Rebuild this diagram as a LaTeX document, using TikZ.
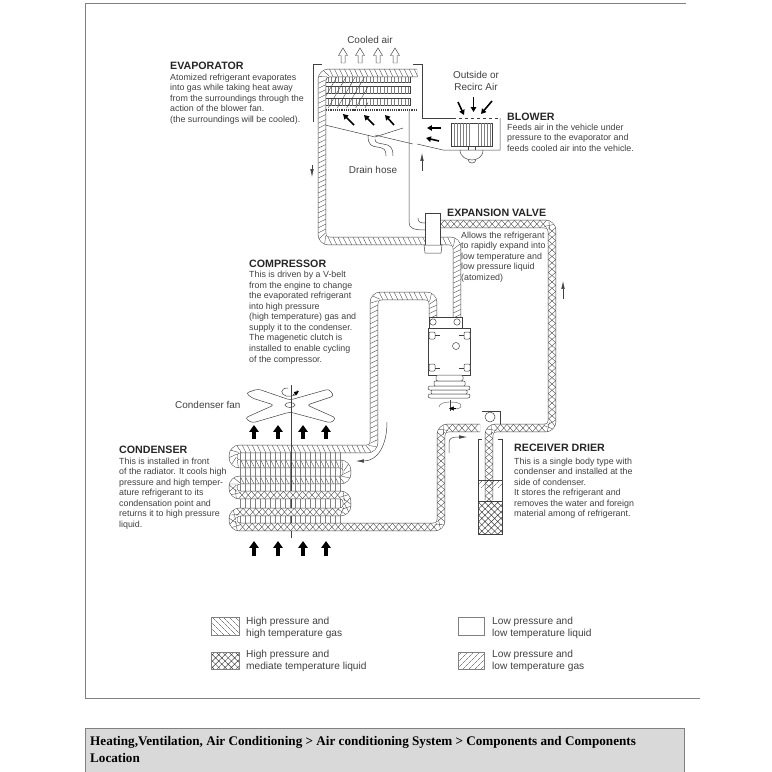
\documentclass[tikz,border=0pt]{standalone}
\usepackage{fontspec}
\setmainfont{Liberation Sans}
\newfontfamily\footfont{Liberation Serif}
\usepackage{tikz}
\usetikzlibrary{decorations.markings, patterns.meta, arrows.meta}
\definecolor{inkgray}{gray}{0.25}
\definecolor{footgray}{gray}{0.85}
\tikzset{
  thinline/.style={draw=inkgray, line width=0.5pt},
  hairline/.style={draw=inkgray, line width=0.35pt},
  pipebase/.style={draw=inkgray, line width=0.5pt, double=white, double distance=7.5pt, rounded corners=7},
  gaspipe/.style={pipebase, postaction={decorate}, decoration={markings,
    mark=between positions 0.002 and 1 step 5pt with {\draw[hairline] (-1.8,-3.7) -- (1.8,3.7);}}},
  hotpipe/.style={pipebase, postaction={decorate}, decoration={markings,
    mark=between positions 0.002 and 1 step 5pt with {\draw[hairline] (-1.8,-3.7) -- (1.8,3.7);}}},
  meshpipe/.style={pipebase, postaction={decorate}, decoration={markings,
    mark=between positions 0.002 and 1 step 6.4pt with {\draw[hairline] (-3.2,-3.7) -- (3.2,3.7); \draw[hairline] (-3.2,3.7) -- (3.2,-3.7);}}},
  blockarrow/.style={-{Triangle[width=9.5pt, length=7pt]}, line width=3.4pt, draw=black},
  smallarrow/.style={-{Triangle[width=5.5pt, length=5pt]}, line width=1.6pt, draw=black},
  flowarrow/.style={-{Latex[width=3.5pt, length=8pt]}, draw=inkgray, line width=0.5pt},
  airarrow/.style={thinline, fill=white},
  headtext/.style={anchor=west, inner sep=0pt, text=black!85, font=\fontsize{10.7}{12}\selectfont\bfseries},
  bodytext/.style={anchor=north west, inner sep=0pt, align=left, text=inkgray, font=\fontsize{8.9}{10.6}\selectfont},
  plaintext/.style={inner sep=0pt, align=center, text=inkgray, font=\fontsize{10}{12}\selectfont},
  legendtext/.style={anchor=north west, inner sep=0pt, align=left, text=inkgray, font=\fontsize{10.2}{11.5}\selectfont},
  legendbox/.style={draw=gray, line width=0.5pt},
}
\begin{document}
\begin{tikzpicture}[x=1bp, y=-1bp]
  \useasboundingbox (0,0) rectangle (772,772);
  % --- Frame and footer ---
  \draw[draw=gray, line width=0.8pt] (686,3) -- (85,3) -- (85,698) -- (700,698);
  \draw[draw=gray, fill=footgray] (85,728) rectangle (684,772);
  \node[anchor=north west, inner sep=0pt, align=left, font=\fontsize{13.2}{17}\selectfont\footfont\bfseries] (foot_text) at (90,736)
    {Heating,Ventilation, Air Conditioning > Air conditioning System > Components and Components\\Location};

  % --- Evaporator housing ---
  \draw[thinline] (322,64) -- (313,64) -- (313,122);
  \draw[thinline] (413,64) -- (422,64) -- (422,118) -- (453,118);
  \draw[thinline, dashed] (453,118) -- (500,118);
  \draw[thinline] (500,118) -- (500,150) -- (443,150) -- (417,144);
  % Drain pan and hose
  \draw[thinline] (325,125) -- (375,137) -- (403,128);
  \draw[thinline] (375,135) -- (413,144);
  \draw[thinline] (368,135) .. controls (368,146) and (372,146) .. (377,147) .. controls (384,148) and (386,149) .. (386,156);
  \draw[thinline] (375,139) .. controls (375,143) and (378,143) .. (383,144) .. controls (390,145) and (393,147) .. (393,156);
  % Evaporator coil
  \foreach \y in {79,90,102} {
    \draw[thinline, fill=white] (325,\y-3.5) rectangle (410,\y+3.5);
    \foreach \x in {328,331.5,...,409}
      \draw[hairline, draw=gray] (\x,\y-3.5) -- (\x,\y+3.5);
    \path[pattern={Lines[angle=60, distance=8pt, line width=0.35pt]}, pattern color=inkgray] (325,\y-5.5) rectangle (368,\y+5.5);
  }
  \draw[inkgray, line width=1.2pt, densely dotted] (326,110) -- (417,110);
  \draw[gaspipe] (417,73) -- (322,73) -- (322,241) -- (457,241) -- (457,317);

  % --- Liquid line to evaporator ---
  \draw[thinline] (409,111) -- (409,222) .. controls (409,228) and (413,230) .. (425,230);
  \draw[thinline] (418,218) .. controls (418,222) and (420,223) .. (425,223);

  % --- Air arrows ---
  \foreach \x in {343,360,378,395}
    \draw[airarrow, shift={(\x,0)}] (-2,63) -- (-2,55.5) -- (-4.5,55.5) -- (0,48) -- (4.5,55.5) -- (2,55.5) -- (2,63) -- cycle;
  \draw[smallarrow] (458,102) -- (464,115);
  \draw[smallarrow] (473.5,97) -- (473.5,112);
  \draw[smallarrow] (492,101) -- (481,114);
  \draw[smallarrow] (354,125) -- (343,114);
  \draw[smallarrow] (374,125) -- (364,115);
  \draw[smallarrow] (394,125) -- (385,115);
  \draw[smallarrow] (441,128) -- (427,128);
  \draw[smallarrow] (439,141) -- (426,138);

  % --- Blower ---
  \draw[thinline, fill=white] (451,123) rectangle (492,146);
  \foreach \x in {454,457,460,463,466,469,478,481,484,487,490}
    \draw[hairline, draw=gray] (\x,123) -- (\x,146);
  \draw[hairline] (468,146) -- (468,150);
  \draw[hairline] (475,146) -- (475,150);
  \draw[thinline] (460,150) .. controls (460,157) and (467,160) .. (472,160) .. controls (477,160) and (483,157) .. (483,150);
  \draw[thinline] (468,160) .. controls (469,164) and (475,164) .. (476,160);

  % --- Expansion valve, high pressure side ---
  \draw[meshpipe] (489,500) -- (489,428) -- (552,428) -- (552,224) -- (440,224);
  \draw[thinline, fill=white] (425,213) rectangle (440,245);
  \draw[thinline, fill=white] (424,245) -- (442,245) -- (441,253) -- (425,253) -- cycle;

  % --- Compressor ---
  \draw[hotpipe] (433,318) -- (433,296) -- (374,296) -- (374,449) -- (233,449) -- (233,464) -- (347,464) -- (347,480) -- (233,480) -- (233,487);
  \draw[thinline, fill=white] (429,317) rectangle (462,328);
  \draw[thinline, fill=white] (428,328) rectangle (470,375);
  \draw[thinline, fill=white] (433,322) circle (3.2);
  \draw[thinline, fill=white] (457,322) circle (3.2);
  \draw[thinline, fill=white, rounded corners=1] (429,332) rectangle (435,339);
  \draw[thinline, fill=white, rounded corners=1] (464,332) rectangle (470,339);
  \draw[thinline, fill=white, rounded corners=1] (429,364) rectangle (435,371);
  \draw[thinline, fill=white, rounded corners=1] (464,364) rectangle (470,371);
  \draw[hairline] (435,335) -- (440,335);
  \draw[hairline] (459,335) -- (464,335);
  \draw[hairline] (435,368) -- (440,368);
  \draw[hairline] (459,368) -- (464,368);
  \draw[thinline] (456,346) circle (3.5);
  \draw[thinline, fill=white, rounded corners=2] (436,375) rectangle (463,381);
  \draw[thinline, fill=white, rounded corners=1] (434,381) rectangle (465,386);
  \draw[thinline, fill=white, rounded corners=2] (428,386) rectangle (470,390);
  \draw[thinline, fill=white, rounded corners=1] (431,390) rectangle (467,394);
  \draw[thinline, fill=white, rounded corners=2] (428,394) rectangle (470,398);
  % Pulley rotation
  \draw[hairline] (450,400) -- (450,411);
  \draw[hairline] (439,407) .. controls (439,403) and (446,402) .. (450,402) .. controls (456,402) and (461,403) .. (461,406) .. controls (461,408) and (458,409) .. (454,409);
  \draw[-{Triangle[width=4pt, length=5pt]}, draw=black, line width=0.5pt] (456,408.5) -- (449,408.5);

  % --- Condenser ---
  \foreach \x in {240,245,...,341}
    \draw[hairline, draw=gray] (\x,452) -- (\x,527);
  \draw[hairline] (291,385) -- (291,538);
  \draw[meshpipe] (233,487) -- (233,495) -- (347,495) -- (347,512) -- (233,512) -- (233,527) -- (441,527) -- (441,428) -- (480,428);
  \foreach \x in {254,278,303,326} {
    \draw[blockarrow] (\x,439) -- (\x,425);
    \draw[blockarrow] (\x,556) -- (\x,541);
  }
  % Condenser fan
  \draw[thinline, rounded corners=3] (290,400) -- (258,389) -- (246,393) -- (252,398) -- (274,405) -- (245,418) -- (252,423) -- (290,412) -- (331,423) -- (336,418) -- (307,405) -- (334,396) -- (329,389) -- cycle;
  \draw[thinline] (290,405) ellipse (5 and 2.5);
  \draw[hairline] (291,388) -- (291,400);
  \draw[thinline] (288,388) .. controls (280,388) and (280,394) .. (286,396) .. controls (294,397) and (300,394) .. (297,390);
  \draw[-{Triangle[width=4pt, length=5pt]}, draw=black, line width=0.5pt] (293,395) -- (299,391);

  % --- Receiver drier ---
  \draw[thinline] (478,533) -- (478,439) -- (482,439);
  \draw[thinline] (502,533) -- (502,439) -- (498,439);
  \draw[thinline, fill=white, pattern={Hatch[angle=45, distance=4.5pt]}, pattern color=inkgray] (478,501) rectangle (502,534);
  \path[pattern={Lines[angle=45, distance=4pt]}, pattern color=inkgray] (478,480) rectangle (502,487);
  \draw[thinline] (478,480) -- (502,480);
  \draw[thinline] (482,411) -- (500,411) -- (500,424);
  \draw[thinline, fill=white] (490,417) circle (5);

  % --- Flow arrows ---
  \draw[flowarrow] (312,165) -- (312,177);
  \draw[flowarrow] (422,171) -- (422,153);
  \draw[flowarrow] (563,299) -- (563,281);
  \draw[flowarrow] (449,453) -- (449,443) .. controls (449,438) and (452,437) .. (467,437);
  \draw[flowarrow] (387,422) .. controls (387,445) and (378,461) .. (356,461);

  % --- Labels ---
  \node[plaintext] (cooled_lbl) at (370,40) {Cooled air};
  \node[plaintext] (outside_lbl) at (476,81) {Outside or\\Recirc Air};
  \node[plaintext] (drain_lbl) at (373,170) {Drain hose};
  \node[plaintext, anchor=west] (fan_lbl) at (175,405) {Condenser fan};

  \node[headtext] (evap_head) at (170,66) {EVAPORATOR};
  \node[bodytext] (evap_body) at (170,73.5)
    {Atomized refrigerant evaporates\\into gas while taking heat away\\from the surroundings through the\\action of the blower fan.\\(the surroundings will be cooled).};
  \node[headtext] (blower_head) at (507,117) {BLOWER};
  \node[bodytext] (blower_body) at (507,123.5)
    {Feeds air in the vehicle under\\pressure to the evaporator and\\feeds cooled air into the vehicle.};
  \node[headtext] (valve_head) at (447,213) {EXPANSION VALVE};
  \node[bodytext] (valve_body) at (461,231.5)
    {Allows the refrigerant\\to rapidly expand into\\low temperature and\\low pressure liquid\\(atomized)};
  \node[headtext] (comp_head) at (249,264) {COMPRESSOR};
  \node[bodytext] (comp_body) at (249,271)
    {This is driven by a V-belt\\from the engine to change\\the evaporated refrigerant\\into high pressure\\(high temperature) gas and\\supply it to the condenser.\\The magenetic clutch is\\installed to enable cycling\\of the compressor.};
  \node[headtext] (cond_head) at (119,450) {CONDENSER};
  \node[bodytext] (cond_body) at (119,457.5)
    {This is installed in front\\of the radiator. It cools high\\pressure and high temper-\\ature refrigerant to its\\condensation point and\\returns it to high pressure\\liquid.};
  \node[headtext] (recv_head) at (514,448) {RECEIVER DRIER};
  \node[bodytext] (recv_body) at (514,457.5)
    {This is a single body type with\\condenser and installed at the\\side of condenser.\\It stores the refrigerant and\\removes the water and foreign\\material among of refrigerant.};

  % --- Legend ---
  \draw[legendbox, pattern={Lines[angle=-45, distance=4pt]}, pattern color=inkgray] (211,617) rectangle (239,635);
  \node[legendtext] (leg_hot) at (246,617) {High pressure and\\high temperature gas};
  \draw[legendbox, pattern={Hatch[angle=45, distance=4.5pt]}, pattern color=inkgray] (211,652) rectangle (239,669);
  \node[legendtext] (leg_mesh) at (246,650) {High pressure and\\mediate temperature liquid};
  \draw[legendbox] (458,617) rectangle (484,635);
  \node[legendtext] (leg_liq) at (492,617) {Low pressure and\\low temperature liquid};
  \draw[legendbox, pattern={Lines[angle=45, distance=4pt]}, pattern color=inkgray] (458,652) rectangle (484,669);
  \node[legendtext] (leg_gas) at (492,650) {Low pressure and\\low temperature gas};
\end{tikzpicture}
\end{document}
